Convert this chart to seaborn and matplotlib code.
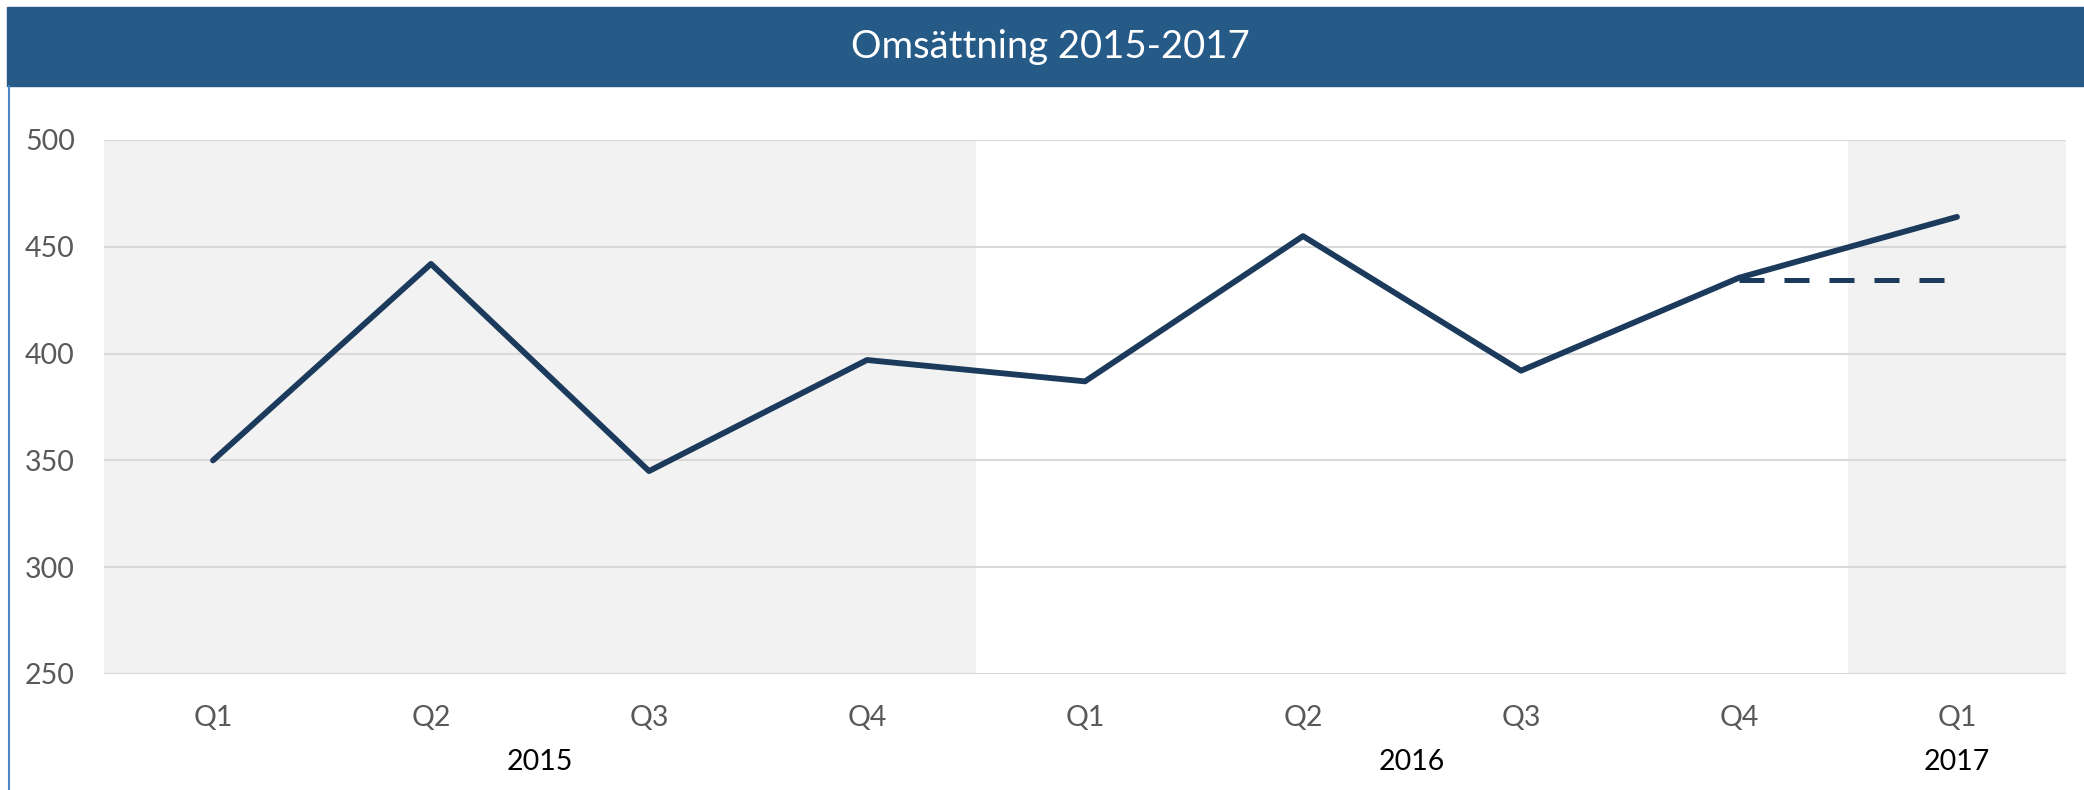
import matplotlib.pyplot as plt
import matplotlib.transforms as mtransforms
from matplotlib.patches import Rectangle
from matplotlib.lines import Line2D
import seaborn as sns
import pandas as pd

# --- data ---
quarters = ["Q1", "Q2", "Q3", "Q4", "Q1", "Q2", "Q3", "Q4", "Q1"]
years = ["2015", "2016", "2017"]
year_spans = [(0, 3), (4, 7), (8, 8)]
omsattning = [350, 442, 345, 397, 387, 455, 392, 435.5, 464]
prognos_idx = [7, 8]
prognos = [434.5, 434.5]
yticks = [250, 300, 350, 400, 450, 500]

# --- style ---
sns.set_theme(style="white")
plt.rcParams["font.family"] = ["Lato", "DejaVu Sans"]

HEADER = "#265A87"
LINE = "#1B3A5C"
SHADE = "#F2F2F2"
GRID = "#D9D9D9"
TICK = "#595959"

W, H = 2084, 790
fig = plt.figure(figsize=(W / 100, H / 100), dpi=100)
ax = fig.add_axes([104 / W, 1 - 674 / H, 1962 / W, 534 / H])

df = pd.DataFrame({"pos": range(len(quarters)), "value": omsattning})
sns.lineplot(data=df, x="pos", y="value", ax=ax, color=LINE, linewidth=4.2,
             solid_capstyle="round", zorder=3)

df_p = pd.DataFrame({"pos": prognos_idx, "value": prognos})
sns.lineplot(data=df_p, x="pos", y="value", ax=ax, color=LINE, linewidth=3.6,
             dashes=False, zorder=3).lines[-1].set_dashes([5.0, 4.0])

# shaded year bands
ax.axvspan(-0.5, 3.5, color=SHADE, zorder=0.2, lw=0)
ax.axvspan(7.5, 8.5, color=SHADE, zorder=0.2, lw=0)

ax.set_xlim(-0.5, len(quarters) - 0.5)
ax.set_ylim(250, 500)
ax.set_yticks(yticks)
ax.set_xticks(range(len(quarters)))
ax.set_xticklabels(quarters)
ax.yaxis.grid(True, color=GRID, linewidth=1.5)
ax.set_axisbelow(True)
ax.tick_params(axis="both", length=0, labelsize=20.5, labelcolor=TICK)
ax.tick_params(axis="y", pad=21)
ax.tick_params(axis="x", pad=22)
ax.set_xlabel("")
ax.set_ylabel("")
for s in ax.spines.values():
    s.set_visible(False)
ax.set_facecolor("white")

# year labels under the quarters
trans = mtransforms.blended_transform_factory(ax.transData, fig.transFigure)
for yr, (a, b) in zip(years, year_spans):
    ax.text((a + b) / 2, 1 - 762 / H, yr, transform=trans, ha="center",
            va="center", fontsize=20.5, color="black")

# header band and title
fig.patches.append(Rectangle((7 / W, 1 - 86 / H), 1 - 7 / W, 79 / H,
                             transform=fig.transFigure, color=HEADER, zorder=0))
fig.text(1050 / W, 1 - 47 / H, "Omsättning 2015-2017", color="white",
         fontsize=27.5, ha="center", va="center")
fig.lines.append(Line2D([9 / W, 9 / W], [0, 1 - 86 / H], transform=fig.transFigure,
                        color="#4A86C8", linewidth=1.5))

fig.savefig("out.png", dpi=100, facecolor="white")
